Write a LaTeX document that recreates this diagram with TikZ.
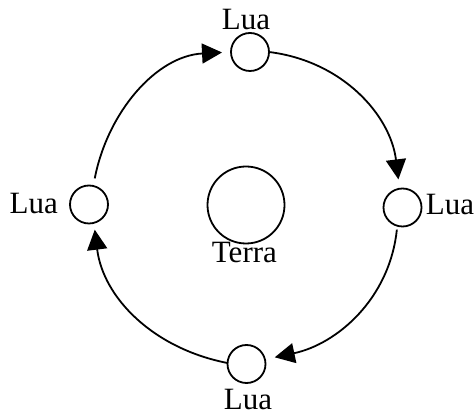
\documentclass[tikz,border=0pt]{standalone}
\usepackage{fontspec}
\setmainfont{Liberation Serif}
\usetikzlibrary{arrows.meta}
\begin{document}
\begin{tikzpicture}[x=1pt,y=1pt,
  moon/.style={draw, circle, line width=1.8pt, minimum size=38pt, inner sep=0pt, outer sep=0pt},
  earth/.style={draw, circle, line width=1.8pt, minimum size=77pt, inner sep=0pt, outer sep=0pt},
  lbl/.style={inner sep=0pt, font=\fontsize{31}{37}\selectfont},
  orbit/.style={line width=1.8pt, -{Triangle[length=20pt,width=20pt]}}]
\useasboundingbox (0,0) rectangle (476,417);
\node[moon] (T) at (250,365) {};
\node[moon] (R) at (402.5,209.5) {};
\node[moon] (L) at (89,212.5) {};
\node[moon] (B) at (246.5,53) {};
\node[earth] (E) at (246,212) {};
\node[lbl, anchor=base] (tT) at (246,387) {Lua};
\node[lbl, anchor=base west] (tR) at (425.7,202) {Lua};
\node[lbl, anchor=base east] (tL) at (58,203.7) {Lua};
\node[lbl, anchor=base] (tB) at (248,7) {Lua};
\node[lbl, anchor=base] (tE) at (244.4,154) {Terra};
\draw[orbit, shorten <=7.7pt, shorten >=9pt] (L.77) to[out=79,in=183] (T.180);
\draw[orbit, shorten >=9.4pt] (T.0) to[out=-7,in=97] (R.99);
\draw[orbit, shorten <=3.9pt, shorten >=10pt] (R.254) to[out=-96,in=12] (B.14);
\draw[orbit, shorten >=6.9pt] (B.177) to[out=169,in=-83] (L.-75);
\end{tikzpicture}
\end{document}
